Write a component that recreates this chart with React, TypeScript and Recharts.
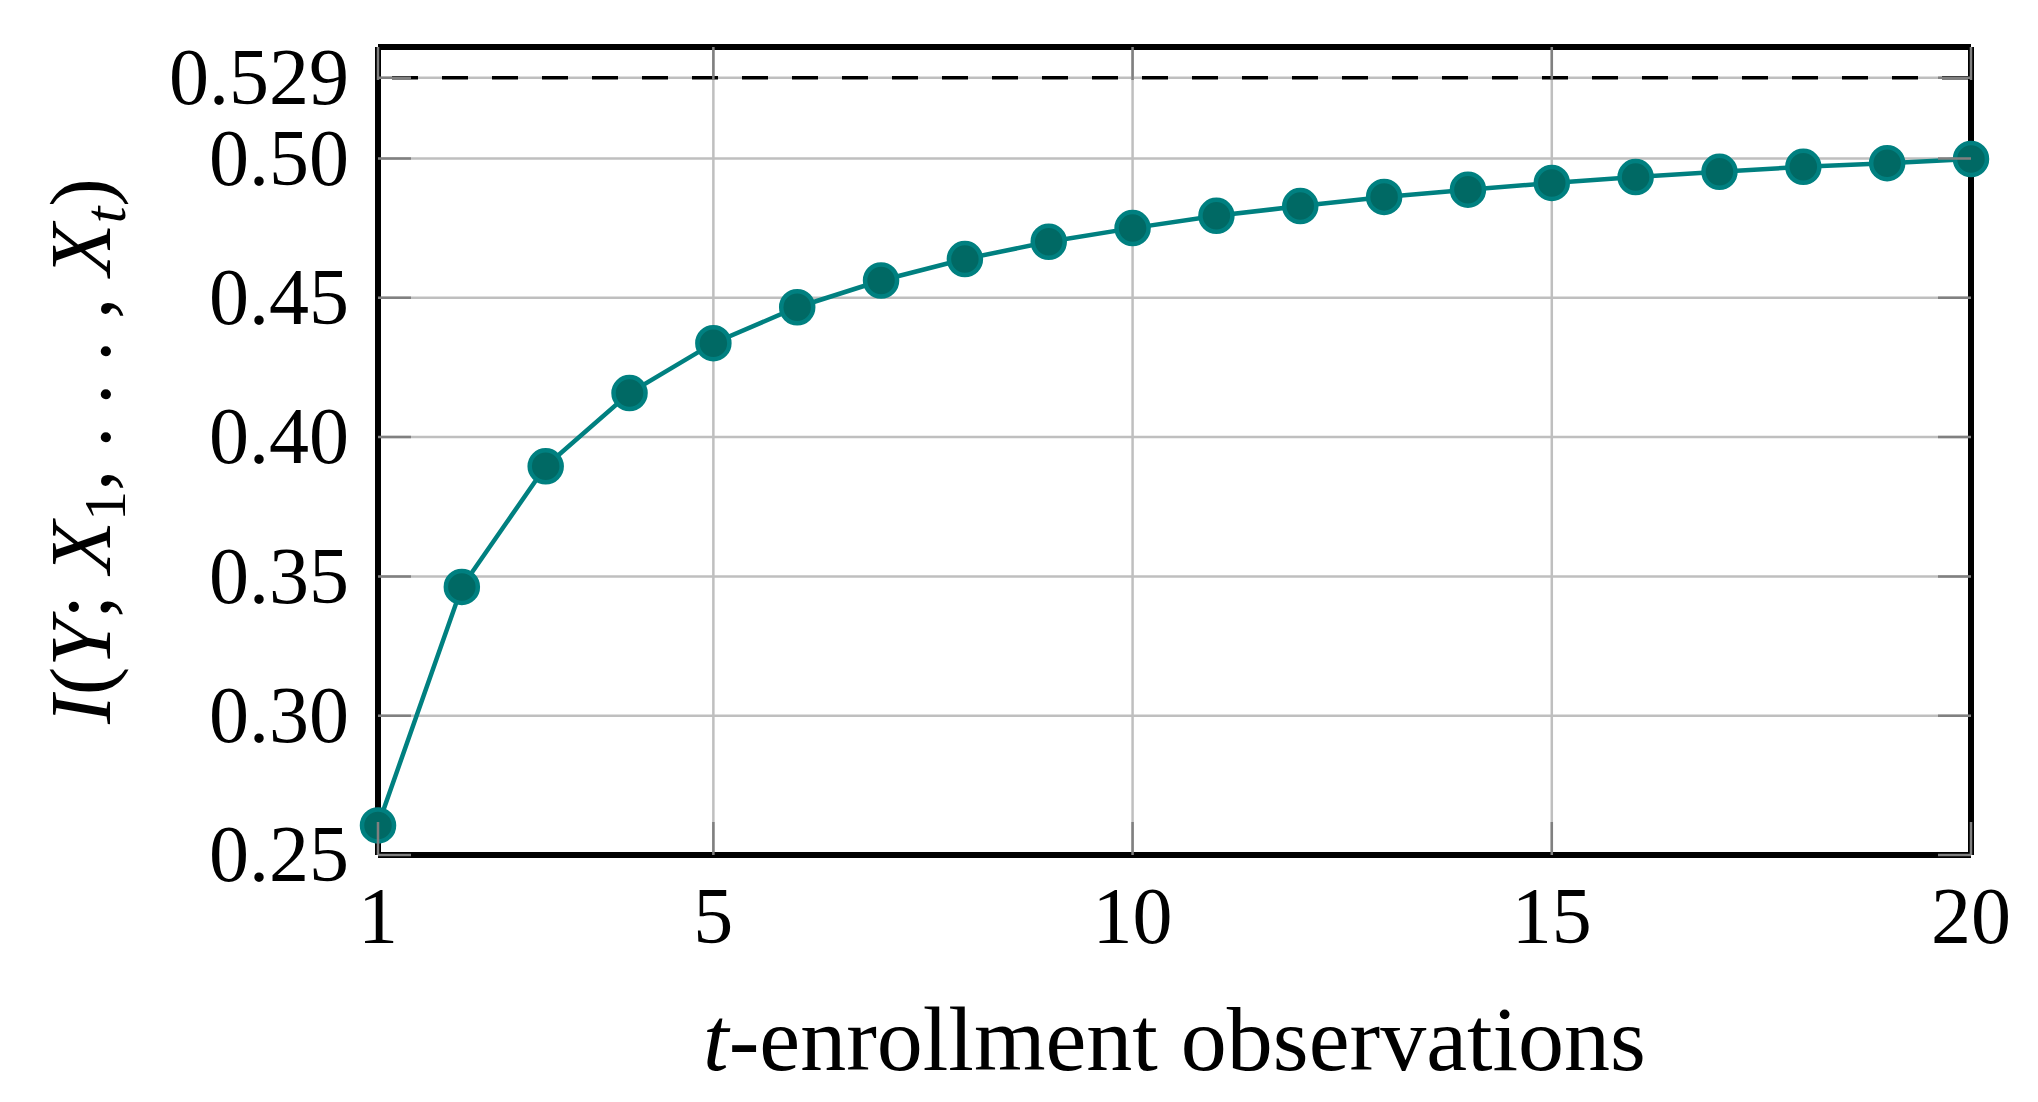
import React from "react";
import {
  LineChart,
  Line,
  XAxis,
  YAxis,
  ReferenceLine,
} from "recharts";

// t = 1..20
const steps = [1, 2, 3, 4, 5, 6, 7, 8, 9, 10, 11, 12, 13, 14, 15, 16, 17, 18, 19, 20];
const info = [
  0.2606, 0.3462, 0.3895, 0.4158, 0.4337, 0.4466, 0.4562, 0.4639, 0.4701, 0.475,
  0.4794, 0.4829, 0.4862, 0.4888, 0.4912, 0.4933, 0.4952, 0.497, 0.4983, 0.4998,
];
const limit = 0.529;

const xTicks = [1, 5, 10, 15, 20];
const yTicks = [0.25, 0.3, 0.35, 0.4, 0.45, 0.5, 0.529];
const yTickLabels = ["0.25", "0.30", "0.35", "0.40", "0.45", "0.50", "0.529"];
const xDomain = [1, 20];
const yDomain = [0.25, 0.54];

const data = steps.map((t, i) => ({ t, mi: info[i] }));

// grid only inside the frame, so it never paints over the black border
const xGrid = xTicks.filter((v) => v > xDomain[0] && v < xDomain[1]);
const yGrid = yTicks.filter((v) => v > yDomain[0] && v < yDomain[1]);

const FONT = "'Liberation Serif', 'Times New Roman', serif";
const TICK_LEN = 33;
const TICK_COLOR = "#808080";
const GRID_COLOR = "#bfbfbf";
const FRAME = { stroke: "#000", strokeWidth: 6 };

const LeftTick = (props: any) => {
  const { x, y, payload, index } = props;
  return (
    <g>
      <line x1={x + 29} x2={x + 29 + TICK_LEN} y1={y} y2={y} stroke={TICK_COLOR} strokeWidth={2.5} />
      <text x={x} y={y} dy="0.33em" textAnchor="end" fontSize={80} fontFamily={FONT} fill="#000">
        {yTickLabels[index] ?? String(payload.value)}
      </text>
    </g>
  );
};

const RightTick = (props: any) => {
  const { x, y } = props;
  return <line x1={x - TICK_LEN} x2={x} y1={y} y2={y} stroke={TICK_COLOR} strokeWidth={2.5} />;
};

const BottomTick = (props: any) => {
  const { x, y, payload } = props;
  return (
    <g>
      <line x1={x} x2={x} y1={y - TICK_LEN} y2={y} stroke={TICK_COLOR} strokeWidth={2.5} />
      <text x={x} y={y + 88} textAnchor="middle" fontSize={80} fontFamily={FONT} fill="#000">
        {payload.value}
      </text>
    </g>
  );
};

const TopTick = (props: any) => {
  const { x, y } = props;
  return <line x1={x} x2={x} y1={y} y2={y + TICK_LEN} stroke={TICK_COLOR} strokeWidth={2.5} />;
};

const YLabel = (props: any) => {
  const vb = props.viewBox;
  const cx = vb.x + 110;
  const cy = vb.y + vb.height / 2;
  return (
    <text
      x={cx}
      y={cy}
      transform={`rotate(-90, ${cx}, ${cy})`}
      textAnchor="middle"
      fontSize={86}
      fontFamily={FONT}
      fill="#000"
    >
      <tspan fontStyle="italic">I</tspan>
      <tspan>(</tspan>
      <tspan fontStyle="italic">Y</tspan>
      <tspan>; </tspan>
      <tspan fontStyle="italic">X</tspan>
      <tspan fontSize={60} dy={15}>1</tspan>
      <tspan dy={-15}>, . . . , </tspan>
      <tspan fontStyle="italic">X</tspan>
      <tspan fontStyle="italic" fontSize={60} dy={15}>t</tspan>
      <tspan dy={-15}>)</tspan>
    </text>
  );
};

const XLabel = (props: any) => {
  const vb = props.viewBox;
  return (
    <text
      x={vb.x + vb.width / 2}
      y={vb.y + 215}
      textAnchor="middle"
      fontSize={92}
      fontFamily={FONT}
      fill="#000"
    >
      <tspan fontStyle="italic">t</tspan>
      <tspan>-enrollment observations</tspan>
    </text>
  );
};

export default function App() {
  return (
    <div style={{ position: "absolute", left: 0, top: 0, background: "#fff" }}>
      <LineChart
        width={2038}
        height={1102}
        data={data}
        margin={{ top: 46, right: 66, left: 0, bottom: 0 }}
      >
        <XAxis
          dataKey="t"
          type="number"
          domain={xDomain}
          ticks={xTicks}
          interval={0}
          height={247}
          tickSize={0}
          tickMargin={0}
          tick={<BottomTick />}
          tickLine={false}
          axisLine={FRAME}
          label={<XLabel />}
        />
        <XAxis
          xAxisId="top"
          orientation="top"
          dataKey="t"
          type="number"
          domain={xDomain}
          ticks={xTicks}
          interval={0}
          height={1}
          tickSize={0}
          tickMargin={0}
          tick={<TopTick />}
          tickLine={false}
          axisLine={FRAME}
        />
        <YAxis
          type="number"
          domain={yDomain}
          ticks={yTicks}
          interval={0}
          width={378}
          tickSize={0}
          tickMargin={29}
          tick={<LeftTick />}
          tickLine={false}
          axisLine={FRAME}
          allowDataOverflow
          label={<YLabel />}
        />
        <YAxis
          yAxisId="right"
          orientation="right"
          type="number"
          domain={yDomain}
          ticks={yTicks}
          interval={0}
          width={1}
          tickSize={0}
          tickMargin={0}
          tick={<RightTick />}
          tickLine={false}
          axisLine={FRAME}
          allowDataOverflow
        />
        {xGrid.map((v) => (
          <ReferenceLine key={`gx${v}`} x={v} stroke={GRID_COLOR} strokeWidth={2.5} />
        ))}
        {yGrid.map((v) => (
          <ReferenceLine key={`gy${v}`} y={v} stroke={GRID_COLOR} strokeWidth={2.5} />
        ))}
        <ReferenceLine
          y={limit}
          stroke="#000"
          strokeWidth={3.5}
          strokeDasharray="26 24"
          strokeDashoffset={-14}
        />
        <Line
          type="linear"
          dataKey="mi"
          stroke="#008080"
          strokeWidth={4.5}
          dot={{ r: 16, fill: "#006964", stroke: "#008080", strokeWidth: 4.5 }}
          activeDot={false}
          isAnimationActive={false}
        />
      </LineChart>
    </div>
  );
}
